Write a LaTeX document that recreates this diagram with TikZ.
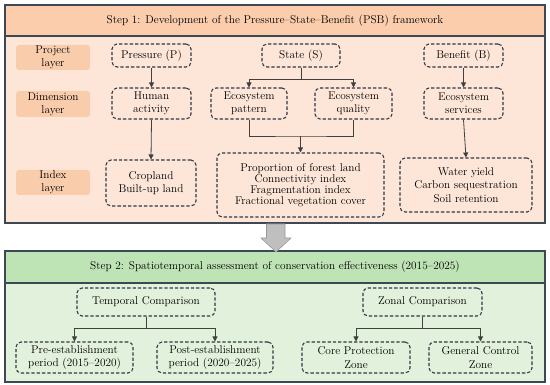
\documentclass[tikz,border=0pt]{standalone}
\usetikzlibrary{arrows.meta,calc}
\definecolor{frameC}{HTML}{3E4852}
\definecolor{pHead}{HTML}{FBCDAC}
\definecolor{pBody}{HTML}{FDE6D8}
\definecolor{pLab}{HTML}{F9CCAC}
\definecolor{gHead}{HTML}{BEE3B4}
\definecolor{gBody}{HTML}{E2F1DB}
\definecolor{boxC}{HTML}{2F3846}
\definecolor{lineC}{HTML}{404040}
\tikzset{
  txt/.style={font=\fontsize{11.3}{13.3}\selectfont, text=black},
  dbox/.style={txt, draw=boxC, line width=1.05pt, dash pattern=on 3.3pt off 2pt,
    rounded corners=5pt, align=center, inner sep=0pt},
  labbox/.style={txt, fill=pLab, rounded corners=3pt, align=center, inner sep=0pt,
    minimum width=74pt},
  conn/.style={draw=lineC, line width=0.8pt},
  arr/.style={conn, -{Triangle[length=5pt,width=5pt]}},
  frame/.style={draw=frameC, line width=1.2pt}
}
\begin{document}
\begin{tikzpicture}[x=1pt,y=-1pt]
\useasboundingbox (0,0) rectangle (550,385);
% Step 1 frame
\fill[pBody] (5,5) rectangle (545,223);
\fill[pHead] (5,5) rectangle (545,36);
\draw[frame] (5,36) -- (545,36);
\draw[frame] (5,5) rectangle (545,223);
\node[txt] (h1) at (275,21) {Step 1: Development of the Pressure--State--Benefit (PSB) framework};
% Step 2 frame
\fill[gBody] (5,251) rectangle (545,382);
\fill[gHead] (5,251) rectangle (545,283);
\draw[frame] (5,283) -- (545,283);
\draw[frame] (5,251) rectangle (545,382);
\node[txt] (h2) at (275,267) {Step 2: Spatiotemporal assessment of conservation effectiveness (2015--2025)};
% block arrow
\draw[fill=black!25, draw=black!40, line width=0.6pt] (266.5,224) -- (285,224) -- (285,238) -- (291,238) -- (276,252) -- (261,238) -- (266.5,238) -- cycle;
% layer labels
\node[labbox, minimum height=25pt] (Lp) at (53,57.5) {Project\\layer};
\node[labbox, minimum height=26pt] (Ld) at (53,104) {Dimension\\layer};
\node[labbox, minimum height=25pt] (Li) at (53,182.5) {Index\\layer};
% project layer
\node[dbox, minimum width=79pt, minimum height=23pt] (P) at (151.5,55.5) {Pressure (P)};
\node[dbox, minimum width=78pt, minimum height=23pt] (S) at (301,55.5) {State (S)};
\node[dbox, minimum width=79pt, minimum height=23pt] (B) at (463.5,55.5) {Benefit (B)};
% dimension layer
\node[dbox, minimum width=79pt, minimum height=31pt] (HA) at (151.5,103.5) {Human\\activity};
\node[dbox, minimum width=76pt, minimum height=31pt] (EP) at (249,103.5) {Ecosystem\\pattern};
\node[dbox, minimum width=77pt, minimum height=31pt] (EQ) at (353.5,103.5) {Ecosystem\\quality};
\node[dbox, minimum width=79pt, minimum height=31pt] (ES) at (463.5,103.5) {Ecosystem\\services};
% index layer
\node[dbox, minimum width=90pt, minimum height=46pt] (CB) at (151,183) {Cropland\\Built-up land};
\node[dbox, minimum width=167pt, minimum height=64pt, font=\fontsize{11.3}{10.9}\selectfont] (PI) at (300.5,185)
  {Proportion of forest land\\Connectivity index\\Fragmentation index\\Fractional vegetation cover};
\node[dbox, minimum width=132pt, minimum height=54pt] (WY) at (466,185) {Water yield\\Carbon sequestration\\Soil retention};
% connectors step 1
\draw[arr] (P.south) -- (HA.north);
\draw[arr] (HA.south) -- (CB.north);
\coordinate (sj) at (301,79);
\draw[conn] (S.south) -- (sj);
\draw[arr] (sj) -| (EP.north);
\draw[arr] (sj) -| (EQ.north);
\coordinate (ij) at (300.5,136);
\draw[conn] (EP.south) |- (ij) -| (EQ.south);
\draw[arr] (ij) -- (PI.north);
\draw[arr] (B.south) -- (ES.north);
\draw[arr] (ES.south) -- (WY.north);
% step 2 nodes
\node[dbox, minimum width=138pt, minimum height=28pt] (TC) at (146,302) {Temporal Comparison};
\node[dbox, minimum width=117pt, minimum height=31pt] (Pre) at (74.5,357.5) {Pre-establishment\\period (2015--2020)};
\node[dbox, minimum width=116pt, minimum height=31pt] (Post) at (215,357.5) {Post-establishment\\period (2020--2025)};
\node[dbox, minimum width=119pt, minimum height=28pt] (ZC) at (422.5,302) {Zonal Comparison};
\node[dbox, minimum width=108pt, minimum height=31pt] (Core) at (356,357.5) {Core Protection\\Zone};
\node[dbox, minimum width=103pt, minimum height=31pt] (Gen) at (480.5,357.5) {General Control\\Zone};
% connectors step 2
\coordinate (tj) at (146,328);
\draw[conn] (TC.south) -- (tj);
\draw[arr] (tj) -| (Pre.north);
\draw[arr] (tj) -| (Post.north);
\coordinate (zj) at (422.5,328);
\draw[conn] (ZC.south) -- (zj);
\draw[arr] (zj) -| (Core.north);
\draw[arr] (zj) -| (Gen.north);
\end{tikzpicture}
\end{document}
